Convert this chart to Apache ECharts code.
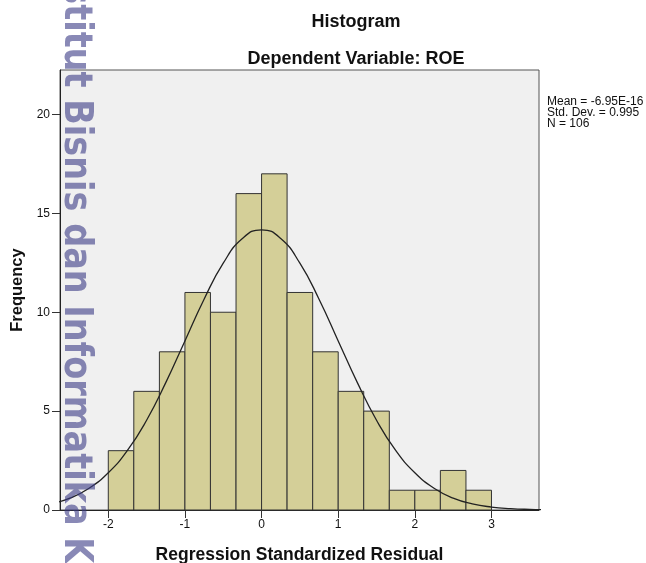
<!DOCTYPE html>
<html>
<head>
<meta charset="utf-8">
<script src="https://cdn.jsdelivr.net/npm/echarts@6/dist/echarts.min.js"></script>
<style>
  html, body { margin: 0; padding: 0; background: #fff; }
  #chart { width: 646px; height: 563px; }
</style>
</head>
<body>
<div id="chart"></div>
<script>
// histogram bins (edges) and frequencies
var binEdges = [-2, -1.667, -1.333, -1, -0.667, -0.333, 0, 0.333, 0.667, 1, 1.333, 1.667, 2, 2.333, 2.667, 3];
var counts = [3, 6, 8, 11, 10, 16, 17, 11, 8, 6, 5, 1, 1, 2, 1];

// normal curve
var curveX = [-2.75, -2.5, -2.25, -2, -1.75, -1.5, -1.25, -1, -0.75, -0.5, -0.25, 0,
  0.25, 0.5, 0.75, 1, 1.25, 1.5, 1.75, 2, 2.25, 2.5, 2.75, 3, 3.25, 3.5, 3.75];
var curveY = [0.31, 0.6, 1.1, 1.88, 3.01, 4.54, 6.44, 8.55, 10.66, 12.48, 13.73, 14.17,
  13.73, 12.48, 10.66, 8.55, 6.44, 4.54, 3.01, 1.88, 1.1, 0.6, 0.31, 0.15, 0.07, 0.03, 0.01];

var xTicks = [-2, -1, 0, 1, 2, 3];
var yTicks = [0, 5, 10, 15, 20];
var statsLines = ['Mean = -6.95E-16', 'Std. Dev. = 0.995', 'N = 106'];

var bars = counts.map(function (c, i) {
  return [binEdges[i], binEdges[i + 1], c];
});
var curve = curveX.map(function (x, i) { return [x, curveY[i]]; });

var chart = echarts.init(document.getElementById('chart'));
var font = 'Liberation Sans, Arial, sans-serif';

chart.setOption({
  animation: false,
  grid: {
    left: 60, top: 70, right: 107, bottom: 53,
    outerBoundsMode: 'none',
    containLabel: false,
    show: true,
    backgroundColor: '#f0f0f0',
    borderColor: '#555',
    borderWidth: 1
  },
  xAxis: {
    type: 'value',
    min: -2.63,
    max: 3.62,
    splitLine: { show: false },
    axisLine: { onZero: false, lineStyle: { color: '#222', width: 1 } },
    axisTick: { customValues: xTicks, length: 8, lineStyle: { color: '#333' } },
    axisLabel: { customValues: xTicks, color: '#111', fontSize: 12, fontFamily: font, margin: 9 },
    name: 'Regression Standardized Residual',
    nameLocation: 'middle',
    nameGap: 36,
    nameTextStyle: { fontSize: 17.5, fontWeight: 'bold', color: '#111', fontFamily: font }
  },
  yAxis: {
    type: 'value',
    min: 0,
    max: 22.25,
    splitLine: { show: false },
    axisLine: { show: true, onZero: false, lineStyle: { color: '#222', width: 1 } },
    axisTick: { show: true, customValues: yTicks, length: 8, lineStyle: { color: '#333' } },
    axisLabel: { customValues: yTicks, color: '#111', fontSize: 12, fontFamily: font, margin: 10 },
    name: 'Frequency',
    nameLocation: 'middle',
    nameGap: 33,
    nameTextStyle: { fontSize: 16.5, fontWeight: 'bold', color: '#111', fontFamily: font }
  },
  series: [
    {
      type: 'custom',
      data: bars,
      z: 2,
      renderItem: function (params, api) {
        var p0 = api.coord([api.value(0), api.value(2)]);
        var p1 = api.coord([api.value(1), 0]);
        return {
          type: 'rect',
          shape: { x: p0[0], y: p0[1], width: p1[0] - p0[0], height: p1[1] - p0[1] },
          style: { fill: '#d4cf98', stroke: '#333', lineWidth: 1 }
        };
      }
    },
    {
      type: 'line',
      data: curve,
      smooth: true,
      symbol: 'none',
      z: 3,
      lineStyle: { color: '#222', width: 1.3 }
    }
  ],
  graphic: [
    {
      type: 'text', x: 356, y: 13,
      style: { text: 'Histogram', font: 'bold 18px ' + font, fill: '#111', textAlign: 'center' }
    },
    {
      type: 'text', x: 356, y: 50,
      style: { text: 'Dependent Variable: ROE', font: 'bold 18px ' + font, fill: '#111', textAlign: 'center' }
    },
    {
      type: 'text', x: 547, y: 96,
      style: { text: statsLines.join('\n'), font: '12px ' + font, fill: '#111', lineHeight: 11 }
    },
    {
      // watermark over the left of the picture
      type: 'text', x: 75, y: -52, rotation: -Math.PI / 2, scaleY: 1.15, z: 100,
      style: {
        text: 'Institut Bisnis dan Informatika Kwik Kian Gie',
        font: 'bold 33.5px DejaVu Sans',
        fill: 'rgba(58,58,133,0.6)',
        textAlign: 'left',
        textVerticalAlign: 'middle'
      }
    }
  ]
});
</script>
</body>
</html>
